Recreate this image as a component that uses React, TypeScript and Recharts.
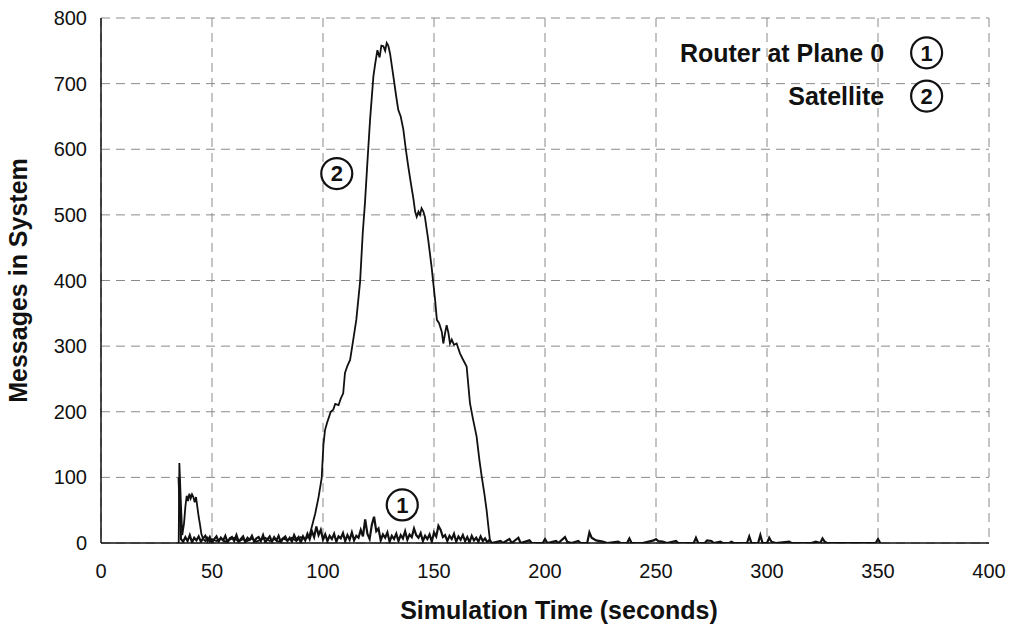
import { LineChart, Line, XAxis, YAxis, CartesianGrid, ReferenceDot, Label } from 'recharts';

const FONT = '"Liberation Sans", Arial, Helvetica, sans-serif';

// axis ticks
const xTicks = [0, 50, 100, 150, 200, 250, 300, 350, 400];
const yTicks = [0, 100, 200, 300, 400, 500, 600, 700, 800];

// Router at Plane 0 (1): sampled once per second from t = 35 to 175
const routerStart = 35;
const routerDense = [
  100, 6, 2, 9, 3, 12, 1, 8, 4, 10,
  2, 7, 11, 3, 9, 1, 6, 10, 2, 8,
  4, 11, 1, 7, 9, 3, 12, 2, 6, 10,
  1, 8, 5, 11, 2, 7, 9, 3, 12, 1,
  6, 10, 2, 9, 4, 11, 1, 7, 10, 3,
  8, 2, 12, 5, 9, 1, 10, 4, 14, 6,
  18, 9, 25, 12, 20, 5, 13, 3, 11, 6,
  14, 2, 10, 7, 15, 3, 12, 5, 16, 4,
  11, 8, 20, 10, 36, 14, 6, 28, 40, 18,
  22, 4, 13, 8, 16, 2, 11, 6, 14, 3,
  12, 7, 18, 5, 13, 9, 22, 12, 8, 15,
  3, 11, 6, 13, 2, 16, 10, 26, 20, 9,
  12, 3, 11, 6, 14, 2, 10, 5, 12, 3,
  9, 1, 11, 4, 8, 2, 10, 3, 7, 1,
  5,
];
// Router tail after the burst: sparse spikes
const routerTailT = [176, 180, 181, 184, 185, 188, 189, 193, 194, 199, 200, 201, 205, 206, 209, 210, 212, 215, 216, 219, 220, 221, 223, 226, 228, 233, 234, 237, 238, 239, 244, 249, 250, 251, 253, 255, 259, 260, 267, 268, 269, 272, 273, 275, 276, 279, 280, 283, 284, 285, 291, 292, 293, 296, 297, 298, 300, 301, 302, 304, 310, 311, 320, 322, 324, 325, 326, 327, 334, 349, 350, 351];
const routerTailV = [0, 3, 0, 6, 0, 8, 0, 4, 0, 0, 6, 0, 3, 0, 9, 2, 0, 3, 0, 0, 16, 8, 4, 2, 0, 2, 0, 0, 7, 0, 0, 4, 6, 3, 2, 0, 3, 0, 0, 8, 0, 0, 4, 3, 0, 2, 0, 0, 2, 0, 0, 10, 0, 0, 12, 0, 0, 8, 2, 0, 2, 0, 0, 2, 0, 7, 2, 0, 0, 0, 6, 0];

// Satellite (2)
const satT = [35, 35.3, 36, 36.6, 37.4, 38, 38.6, 39.2, 39.8, 40.4, 41, 41.6, 42.2, 42.8, 43.4, 44, 44.6, 45.2, 46, 47, 48, 49, 50, 52, 54, 56, 58, 60, 62, 64, 66, 68, 70, 72, 74, 76, 78, 80, 82, 84, 86, 88, 90, 92, 93.8, 95, 96.5, 98, 99.4, 100.2, 100.9, 102, 103.5, 104.6, 105.5, 107, 108, 109.1, 109.9, 111, 112.2, 113.6, 115, 116.7, 117.9, 118.9, 120, 121.2, 122.7, 123.5, 124.5, 125.5, 126.3, 127.2, 128, 128.7, 129.4, 130.2, 131.7, 133, 133.9, 135, 136.2, 137.3, 138.4, 139.5, 140.7, 141.5, 142.2, 143, 143.7, 144.4, 145.2, 145.9, 147.4, 148.9, 150.5, 151.3, 152.3, 153.5, 154.2, 155, 155.7, 156.5, 157.2, 158, 159, 160.2, 161.7, 163, 164.7, 166.2, 167.5, 169.2, 170.5, 171.5, 172.7, 173.7, 174.5, 175.2, 176];
const satV = [0, 122, 60, 12, 30, 55, 72, 64, 75, 68, 74, 70, 62, 70, 55, 40, 28, 14, 6, 3, 8, 2, 6, 3, 7, 2, 5, 8, 2, 6, 3, 7, 2, 5, 8, 3, 6, 2, 7, 4, 8, 3, 9, 6, 10, 25, 45, 70, 99, 150, 172, 185, 200, 203, 212, 210, 220, 228, 259, 270, 279, 309, 340, 398, 472, 518, 580, 645, 711, 730, 751, 740, 758, 757, 750, 762, 758, 746, 711, 680, 660, 650, 630, 600, 574, 550, 525, 505, 497, 505, 500, 510, 505, 497, 462, 421, 370, 340, 335, 322, 304, 320, 332, 320, 304, 310, 302, 304, 289, 280, 269, 213, 190, 162, 125, 101, 75, 50, 25, 4, 0];

const routerData = [
  ...routerDense.map((v, i) => ({ t: routerStart + i, v })),
  ...routerTailT.map((t, i) => ({ t, v: routerTailV[i] })),
];
const satData = satT.map((t, i) => ({ t, v: satV[i] }));

// circled markers: [x, y] in data units
const mark1 = { x: 135.7, y: 58 };
const mark2 = { x: 106.2, y: 563 };
const legend1 = { x: 371.9, y: 747 };
const legend2 = { x: 371.9, y: 681 };

const circleProps = { r: 15.5, fill: '#fff', stroke: '#111', strokeWidth: 2.2 };
const numLabel = { position: 'center' as const, fontSize: 22, fontWeight: 'bold', fill: '#111', fontFamily: FONT };
const legendLabel = { position: 'left' as const, offset: 27, fontSize: 25, fontWeight: 'bold', fill: '#111', fontFamily: FONT };

export default function App() {
  return (
    <div style={{ position: 'absolute', left: 0, top: 0, width: 1014, height: 633, background: '#fff', fontFamily: FONT }}>
      <LineChart width={1014} height={633} margin={{ top: 18, right: 25, bottom: 0, left: 0 }}>
        <CartesianGrid stroke="#8a8a8a" strokeDasharray="9 6" />
        <XAxis
          type="number"
          dataKey="t"
          domain={[0, 400]}
          ticks={xTicks}
          height={90}
          tickSize={0}
          tickMargin={21}
          axisLine={{ stroke: '#111', strokeWidth: 1.5 }}
          tick={{ fill: '#111', fontSize: 20, fontFamily: FONT }}
          allowDataOverflow
        >
          <Label value="Simulation Time (seconds)" position="insideBottom" offset={14} dx={14} fontSize={25} fontWeight="bold" fill="#111" fontFamily={FONT} />
        </XAxis>
        <XAxis xAxisId="top" orientation="top" type="number" domain={[0, 400]} ticks={xTicks} tick={false} tickSize={5} mirror height={0} axisLine={{ stroke: '#111', strokeWidth: 1.5 }} tickLine={{ stroke: '#111' }} />
        <YAxis
          type="number"
          domain={[0, 800]}
          ticks={yTicks}
          width={101}
          tickSize={0}
          tickMargin={14}
          axisLine={{ stroke: '#111', strokeWidth: 1.5 }}
          tick={{ fill: '#111', fontSize: 20, fontFamily: FONT }}
          allowDataOverflow
        >
          <Label value="Messages in System" angle={-90} position="insideLeft" offset={18} fontSize={25} fontWeight="bold" fill="#111" fontFamily={FONT} style={{ textAnchor: 'middle' }} />
        </YAxis>
        <YAxis yAxisId="right" orientation="right" type="number" domain={[0, 800]} ticks={yTicks} tick={false} tickSize={5} mirror width={0} axisLine={{ stroke: '#111', strokeWidth: 1.5 }} tickLine={{ stroke: '#111' }} />
        <Line data={routerData} dataKey="v" type="linear" stroke="#111" strokeWidth={2.2} dot={false} isAnimationActive={false} />
        <Line data={satData} dataKey="v" type="linear" stroke="#111" strokeWidth={1.8} dot={false} isAnimationActive={false} />
        <ReferenceDot x={mark1.x} y={mark1.y} {...circleProps}>
          <Label value="1" {...numLabel} />
        </ReferenceDot>
        <ReferenceDot x={mark2.x} y={mark2.y} {...circleProps}>
          <Label value="2" {...numLabel} />
        </ReferenceDot>
        <ReferenceDot x={legend1.x} y={legend1.y} {...circleProps}>
          <Label value="1" {...numLabel} />
          <Label value="Router at Plane 0" {...legendLabel} />
        </ReferenceDot>
        <ReferenceDot x={legend2.x} y={legend2.y} {...circleProps}>
          <Label value="2" {...numLabel} />
          <Label value="Satellite" {...legendLabel} />
        </ReferenceDot>
      </LineChart>
    </div>
  );
}
